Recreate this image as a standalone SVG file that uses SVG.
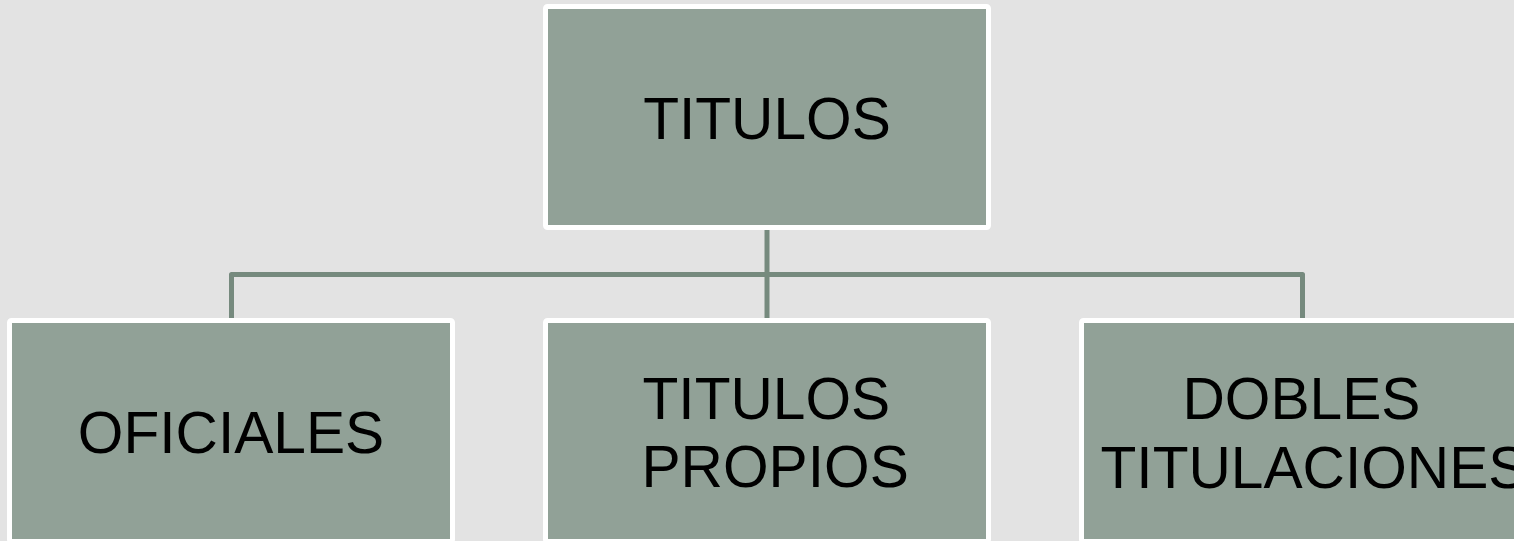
<svg xmlns="http://www.w3.org/2000/svg" width="1514" height="541" viewBox="0 0 1514 541">
<style>
.box{fill:#91a197;stroke:#ffffff;stroke-width:5}
.lbl{font-family:"Liberation Sans",Arial,sans-serif;font-size:58.67px;fill:#000000}
.conn{fill:none;stroke:#768a7e;stroke-width:5;stroke-linejoin:round}
</style>
<rect width="1514" height="541" fill="#e3e3e3"/>
<g id="connectors">
<path class="conn" d="M767,230 V318"/>
<path class="conn" d="M231.5,318 V274.5 H1302.5 V318"/>
</g>
<g id="node-titulos">
<rect class="box" x="545.5" y="6.5" width="443" height="221" rx="2"/>
<text class="lbl" x="767" y="139" text-anchor="middle">TITULOS</text>
</g>
<g id="node-oficiales">
<rect class="box" x="9.5" y="320.5" width="443" height="221" rx="2"/>
<text class="lbl" x="231" y="453" text-anchor="middle">OFICIALES</text>
</g>
<g id="node-titulos-propios">
<rect class="box" x="545.5" y="320.5" width="443" height="221" rx="2"/>
<text class="lbl" y="419"><tspan x="642.5">TITULOS</tspan><tspan x="641.5" y="487">PROPIOS</tspan></text>
</g>
<g id="node-dobles">
<rect class="box" x="1081.5" y="320.5" width="443" height="221" rx="2"/>
<text class="lbl" y="419"><tspan x="1182.5">DOBLES</tspan><tspan x="1100.5" y="488">TITULACIONES</tspan></text>
</g>
</svg>
